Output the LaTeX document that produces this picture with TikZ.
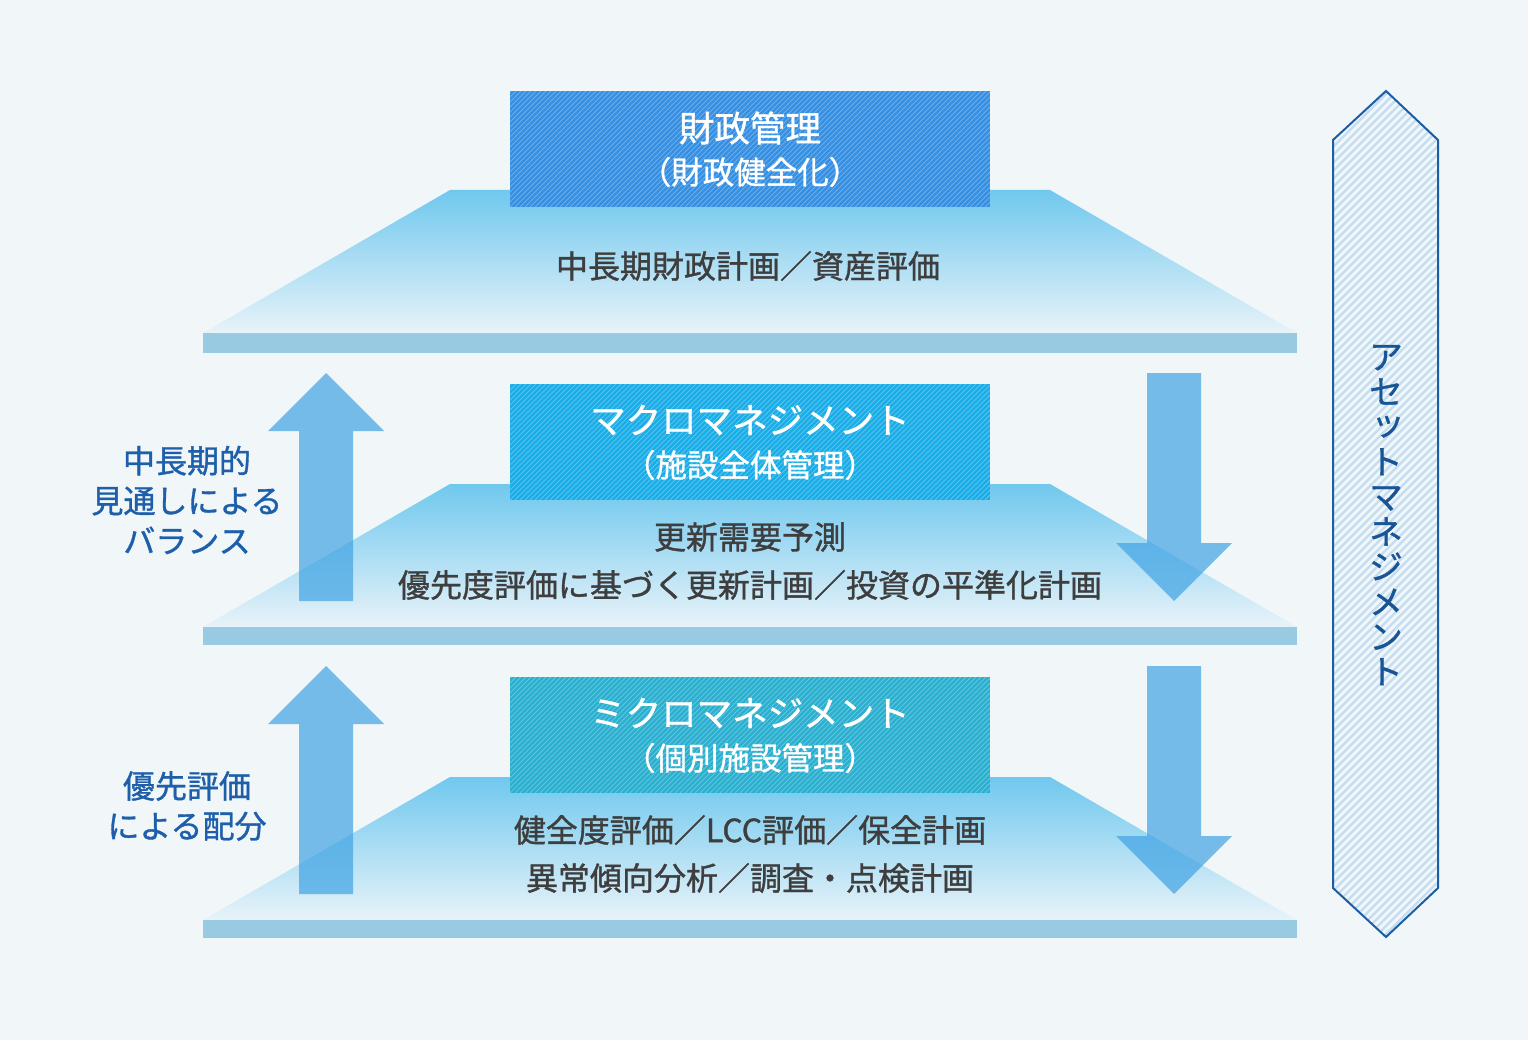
\documentclass[tikz,border=0pt]{standalone}
\usepackage{fontspec}
\setmainfont{Noto Sans CJK JP}
\newfontfamily\medjp[FakeBold=1.1]{Noto Sans CJK JP}
\definecolor{bg}{HTML}{F1F6F9}
\definecolor{trtop}{HTML}{70C8EE}
\definecolor{trbot}{HTML}{E8F3F9}
\definecolor{barc}{HTML}{98CBE2}
\definecolor{boxa}{HTML}{3590E3}
\definecolor{boxb}{HTML}{19ADE8}
\definecolor{boxc}{HTML}{29AFD0}
\definecolor{arrc}{HTML}{40A3E4}
\definecolor{graytxt}{HTML}{3E3E3E}
\definecolor{bluetxt}{HTML}{1D5FAA}
\definecolor{hexline}{HTML}{1B5EA6}
\definecolor{hexhatch}{HTML}{C6DCEF}
\tikzset{
  hatchbox/.style={rectangle, minimum width=480pt, minimum height=116pt, inner sep=0pt, fill=#1,
    path picture={\foreach \i in {-130,-125,...,490}
      \draw[white, opacity=.28, line width=.8pt] ([xshift=\i pt]path picture bounding box.south west) -- ++(130pt,130pt);}},
  titletxt/.style={text=white, font=\medjp\fontsize{35.5}{40}\selectfont, inner sep=0pt},
  subtxt/.style={text=white, font=\medjp\fontsize{31.5}{34}\selectfont, inner sep=0pt},
  inner/.style={text=graytxt, font=\medjp\fontsize{32}{48}\selectfont, align=center, inner sep=0pt},
  sidetxt/.style={text=bluetxt, font=\medjp\fontsize{32}{40}\selectfont, align=center, inner sep=0pt},
  vtxt/.style={text=hexline!90!black, font=\medjp\fontsize{33.5}{35}\selectfont, align=center, inner sep=0pt},
  bigarrow/.style={fill=arrc, fill opacity=.7},
}
\begin{document}
\begin{tikzpicture}[x=1pt,y=-1pt]
\fill[bg] (0,0) rectangle (1528,1040);
\useasboundingbox (0,0) rectangle (1528,1040);

% levels (trapezoids and bars)
\foreach \t/\bh in {190/20,484/18,777/18}{
  \shade[top color=trtop, bottom color=trbot] (450,\t) -- (1050,\t) -- (1297,\t+143) -- (203,\t+143) -- cycle;
  \fill[barc] (203,\t+143) rectangle (1297,\t+143+\bh);
}

% boxes
\node[hatchbox=boxa] (b1) at (750,149) {};
\node[hatchbox=boxb] (b2) at (750,442) {};
\node[hatchbox=boxc] (b3) at (750,735) {};

\node[titletxt] (t1) at (750,128) {財政管理};
\node[subtxt] (s1) at (750,172) {（財政健全化）};
\node[titletxt] (t2) at (750,420) {マクロマネジメント};
\node[subtxt] (s2) at (750,465) {（施設全体管理）};
\node[titletxt] (t3) at (750,713) {ミクロマネジメント};
\node[subtxt] (s3) at (750,758) {（個別施設管理）};

% inner texts
\node[inner] (i1) at (748,266) {中長期財政計画／資産評価};
\node[inner] (i2) at (750,561) {更新需要予測\\優先度評価に基づく更新計画／投資の平準化計画};
\node[inner] (i3) at (750,854) {健全度評価／LCC評価／保全計画\\異常傾向分析／調査・点検計画};

% arrows
\foreach \y in {0,293}{
  \fill[bigarrow] (326,373+\y) -- (384,431+\y) -- (353,431+\y) -- (353,601+\y) -- (299,601+\y) -- (299,431+\y) -- (268,431+\y) -- cycle;
  \fill[bigarrow] (1147,373+\y) -- (1201,373+\y) -- (1201,543+\y) -- (1232,543+\y) -- (1174,601+\y) -- (1116,543+\y) -- (1147,543+\y) -- cycle;
}

% side labels
\node[sidetxt] (l1) at (187,500) {中長期的\\見通しによる\\バランス};
\node[sidetxt] (l2) at (187,806) {優先評価\\による配分};

% hexagon
\coordinate (hT) at (1386,91);
\coordinate (hB) at (1386,937);
\begin{scope}
  \clip (hT) -- (1438,140) -- (1438,888) -- (hB) -- (1333,888) -- (1333,140) -- cycle;
  \foreach \i in {0,8,...,960}
    \draw[hexhatch, line width=2.4pt] (1320,80+\i) -- ++(130,-130);
\end{scope}
\draw[hexline, line width=2pt, line join=miter] (hT) -- (1438,140) -- (1438,888) -- (hB) -- (1333,888) -- (1333,140) -- cycle;

\node[vtxt] (v) at (1386,515) {ア\\セ\\\hspace*{.12em}\raisebox{.12em}{ッ}\\ト\\マ\\ネ\\ジ\\メ\\ン\\ト};
\end{tikzpicture}
\end{document}
